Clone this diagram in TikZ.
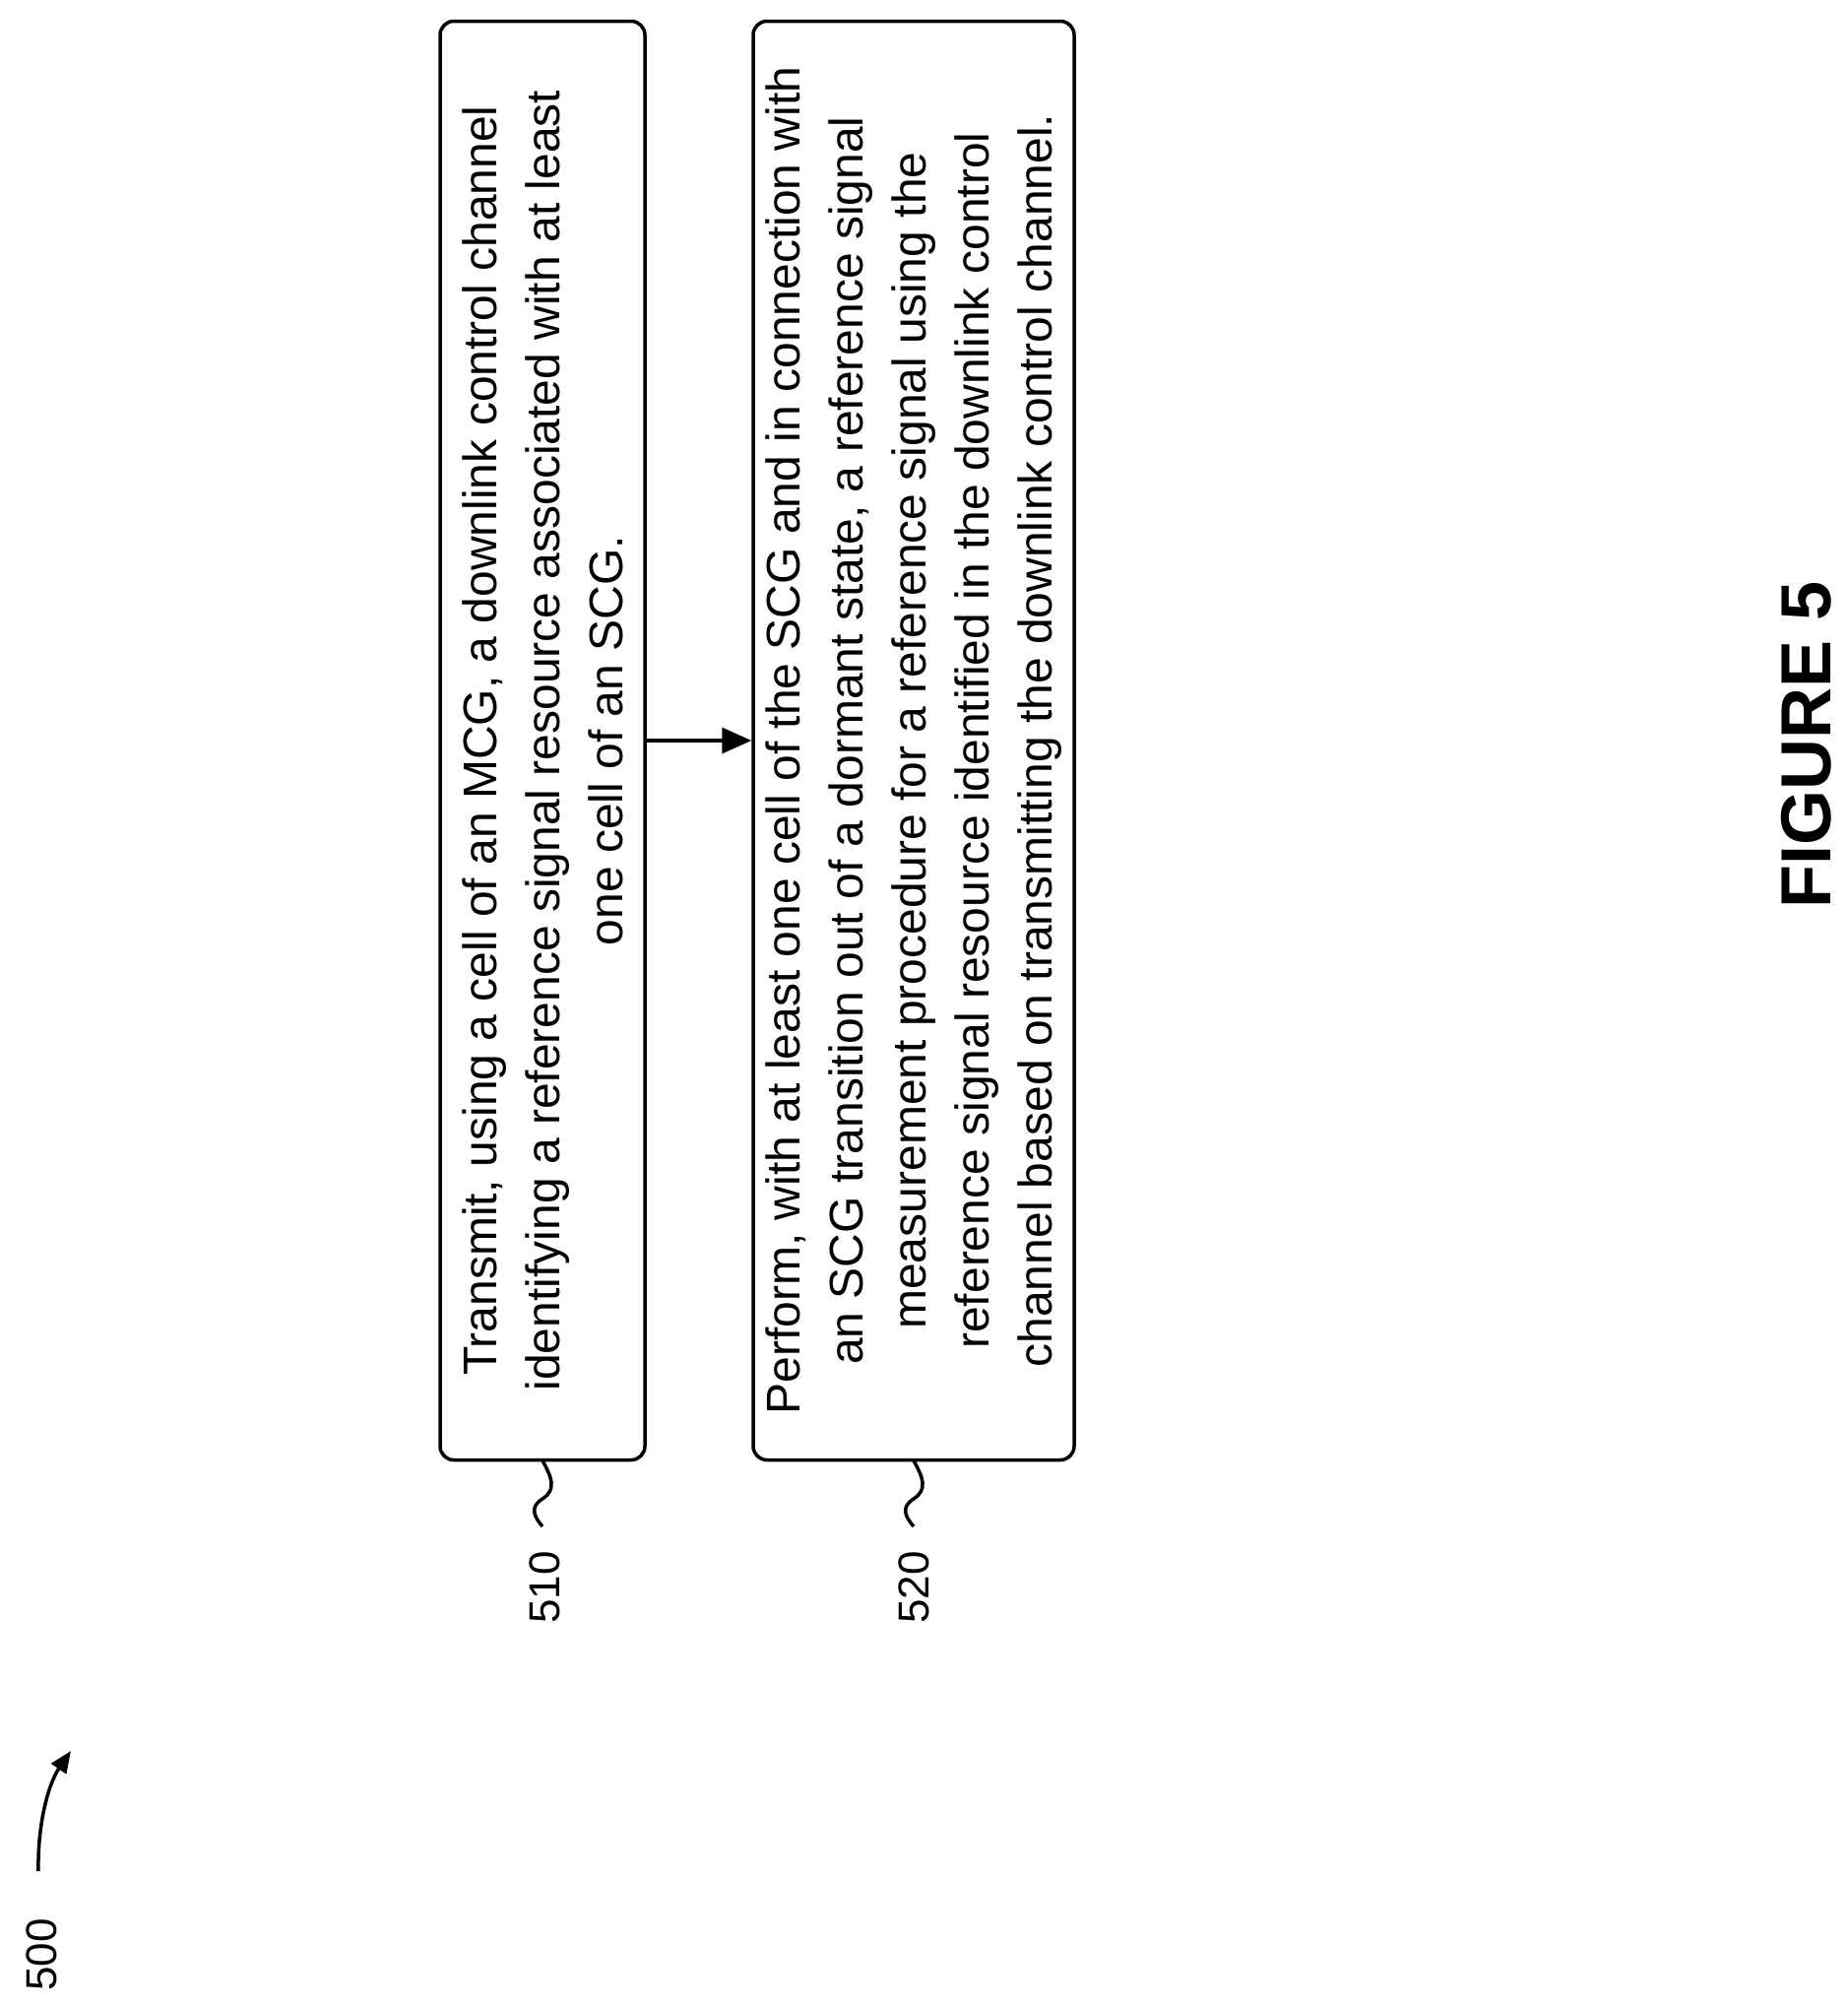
\documentclass[tikz,border=0pt]{standalone}
\usepackage{fontspec}
\setmainfont{Liberation Sans}
\usetikzlibrary{arrows.meta}
\begin{document}
\begin{tikzpicture}[x=1pt,y=1pt,
  box/.style={draw,line width=3.5pt,rounded corners=14pt,rotate=90,align=center,
    font=\fontsize{48}{64}\selectfont,inner sep=0pt},
  lbl/.style={rotate=90,font=\fontsize{44}{50}\selectfont},
  conn/.style={line width=3.5pt}]
\useasboundingbox (0,0) rectangle (1877,-2038);
\node[box,minimum width=1461,minimum height=208] (b1) at (551,-752)
 {Transmit, using a cell of an MCG, a downlink control channel\\
  identifying a reference signal resource associated with at least\\
  one cell of an SCG.};
\node[box,minimum width=1461,minimum height=326] (b2) at (928,-752)
 {Perform, with at least one cell of the SCG and in connection with\\
  an SCG transition out of a dormant state, a reference signal\\
  measurement procedure for a reference signal using the\\
  reference signal resource identified in the downlink control\\
  channel based on transmitting the downlink control channel.};
\draw[conn,-{Triangle[length=30pt,width=26pt]}] (b1.south) -- (b2.north);
\node[lbl] (l1) at (553,-1612) {510};
\node[lbl] (l2) at (928,-1612) {520};
\coordinate (s1) at (551,-1483);
\coordinate (s2) at (928,-1483);
\draw[conn] (s1) .. controls (560,-1500) and (566,-1512) .. (551,-1522) .. controls (538,-1530) and (542,-1540) .. (551,-1550);
\draw[conn] (s2) .. controls (937,-1500) and (943,-1512) .. (928,-1522) .. controls (915,-1530) and (919,-1540) .. (928,-1550);
\node[rotate=90,font=\fontsize{72}{80}\selectfont\bfseries] (fig) at (1835,-756) {FIGURE 5};
\node[lbl] (n500) at (42,-1985) {500};
\coordinate (a0) at (39,-1900);
\coordinate (a1) at (72,-1778);
\draw[conn,-{Triangle[length=22pt,width=18pt]}] (a0) .. controls (38,-1850) and (50,-1810) .. (a1);
\end{tikzpicture}
\end{document}
